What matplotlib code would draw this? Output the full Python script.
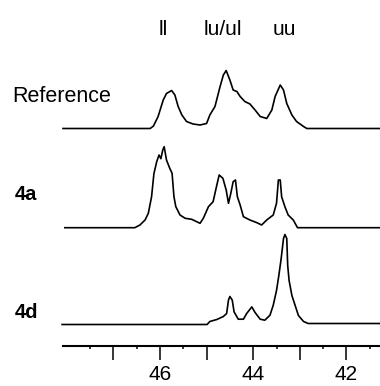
import numpy as np
import matplotlib
matplotlib.use('Agg')
import matplotlib.pyplot as plt
from matplotlib.ticker import FixedLocator, FuncFormatter
from matplotlib.transforms import blended_transform_factory

plt.rcParams['font.family'] = ['Liberation Sans', 'DejaVu Sans']

# spectra: shift (ppm) and intensity (arb. units)
refPpm = [48.08, 46.21, 46.14, 46.04, 45.93, 45.86, 45.75, 45.68, 45.61, 45.53, 45.43, 45.29,
          45.14, 45.00, 44.93, 44.82, 44.71, 44.64, 44.58, 44.50, 44.43, 44.35, 44.28, 44.18,
          44.07, 43.96, 43.85, 43.71, 43.60, 43.53, 43.42, 43.35, 43.28, 43.17, 43.07, 42.92,
          42.85, 41.28]
refInt = [0, 0, 2.5, 12, 28.5, 35, 38, 33.5, 22, 13.5, 7, 4.5,
          3.5, 5, 13.5, 22, 42, 53.5, 58, 48.5, 38.5, 37, 32, 27,
          24.5, 18.5, 12, 10, 18.5, 32, 43.5, 38.5, 25, 13.5, 7, 2,
          0, 0]

aPpm = [48.04, 46.54, 46.43, 46.32, 46.25, 46.18, 46.13, 46.07, 46.02, 45.98, 45.94, 45.91,
        45.86, 45.79, 45.74, 45.70, 45.66, 45.57, 45.46, 45.32, 45.14, 45.07, 44.96, 44.86,
        44.78, 44.73, 44.65, 44.58, 44.53, 44.48, 44.43, 44.38, 44.34, 44.28, 44.21, 44.07,
        43.92, 43.82, 43.71, 43.57, 43.50, 43.46, 43.42, 43.39, 43.32, 43.25, 43.14, 43.05,
        41.28]
aInt = [0, 0, 2.7, 7.7, 14.4, 31, 54, 66, 72.7, 69, 77.7, 81,
        67.7, 59.4, 54.4, 31, 21, 12.7, 9.4, 8.4, 4.4, 9.4, 21, 26,
        42.7, 52.7, 49.4, 37.7, 24.4, 34.4, 46, 47.7, 31, 22.7, 11, 7.7,
        5, 2.7, 7.7, 12.7, 24.4, 47.7, 47.7, 31, 21, 12.7, 7.7, 0,
        0]

dPpm = [48.10, 44.99, 44.93, 44.78, 44.64, 44.57, 44.53, 44.50, 44.45, 44.41, 44.32, 44.21,
        44.14, 44.03, 43.96, 43.85, 43.75, 43.64, 43.57, 43.50, 43.45, 43.40, 43.35, 43.32,
        43.28, 43.26, 43.23, 43.17, 43.10, 43.03, 42.92, 42.82, 42.78, 41.28]
dInt = [0, 0, 3, 5, 8, 11, 24.5, 28, 24.5, 12.6, 5.3, 5.3,
        11, 17.6, 12, 5.3, 4.3, 9.3, 19.3, 34, 49, 66, 86, 90,
        86, 59, 44, 29, 19, 9, 3, 1, 1, 1]

names = ['Reference', '4a', '4d']
weights = ['normal', 'bold', 'bold']
sizes = [15.5, 14.5, 14.5]
offsets = [217.5, 118.3, 21.5]

peakNames = ['ll', 'lu/ul', 'uu']
peakPos = [45.94, 44.65, 43.34]

majorTicks = [47, 46, 45, 44, 43, 42]
minorTicks = [47.5, 46.5, 45.5, 44.5, 43.5, 42.5, 41.5]

W, H = 380.0, 386.0
fig = plt.figure(figsize=(W / 100, H / 100), dpi=100)
ax = fig.add_axes([63 / W, 40 / H, 317 / W, 346 / H])

spectra = [(refPpm, refInt), (aPpm, aInt), (dPpm, dInt)]
for i, (ppm, inten) in enumerate(spectra):
    ax.plot(ppm, np.array(inten) + offsets[i], color='black', lw=1.2, clip_on=False)

ax.set_xlim(48.08, 41.28)
ax.set_ylim(0, 346)

for s in ['top', 'left', 'right']:
    ax.spines[s].set_visible(False)
ax.spines['bottom'].set_linewidth(1.5)
ax.set_yticks([])
ax.xaxis.set_major_locator(FixedLocator(majorTicks))
ax.xaxis.set_minor_locator(FixedLocator(minorTicks))
ax.xaxis.set_major_formatter(FuncFormatter(lambda v, p: '%d' % round(v) if round(v) % 2 == 0 else ''))
ax.tick_params(axis='x', which='major', direction='out', length=10, width=1.1, pad=4, labelsize=15)
ax.tick_params(axis='x', which='minor', direction='out', length=2, width=1.1)

# sample names on the left
baseX = [12, 15, 15]
baseY = [101.7, 200, 318.3]
for i in range(3):
    fig.text(baseX[i] / W, 1 - baseY[i] / H, names[i], fontsize=sizes[i], fontweight=weights[i],
             ha='left', va='baseline')

# peak assignments at the top
trans = blended_transform_factory(ax.transData, fig.transFigure)
for i in range(3):
    ax.text(peakPos[i], 1 - 35 / H, peakNames[i], transform=trans, fontsize=15,
            ha='center', va='baseline')

fig.savefig('out.png', dpi=100)
